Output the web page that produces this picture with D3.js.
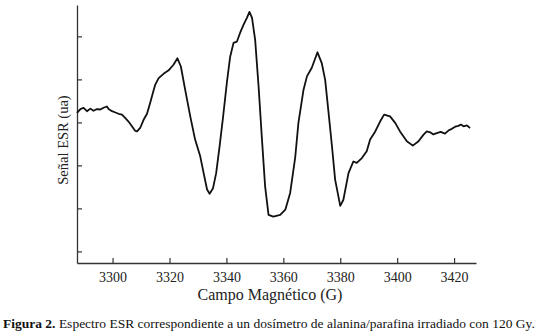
<!DOCTYPE html>
<html>
<head>
<meta charset="utf-8">
<script src="https://cdn.jsdelivr.net/npm/d3@7"></script>
<style>
  body { margin: 0; background: #fff; }
  svg { display: block; font-family: "Liberation Serif", "Times New Roman", serif; }
</style>
</head>
<body>
<div id="chart"></div>
<script>
// ESR spectrum - alanine/paraffin dosimeter, 120 Gy

// field (G)
const field = [
  3287.5, 3288.7, 3289.8, 3291.0, 3292.2, 3293.3, 3294.5, 3295.7, 3296.8, 3298.0,
  3298.6, 3299.8, 3301.0, 3302.1, 3303.3, 3304.5, 3305.6, 3306.8, 3308.0, 3308.6,
  3309.7, 3310.9, 3312.1, 3313.2, 3314.4, 3315.0, 3316.2, 3317.9, 3319.7, 3321.4,
  3322.8, 3324.0, 3325.5, 3327.3, 3329.0, 3330.8, 3332.0, 3333.2, 3334.1, 3335.3,
  3336.4, 3337.6, 3338.8, 3340.2, 3341.3, 3342.5, 3343.7, 3344.8, 3346.0, 3347.2,
  3348.1, 3349.0, 3350.1, 3351.3, 3352.5, 3353.6, 3354.8, 3356.5, 3358.9, 3360.7,
  3362.4, 3364.2, 3365.3, 3367.1, 3368.3, 3370.0, 3372.0, 3373.5, 3374.7, 3375.9,
  3377.1, 3378.2, 3380.0, 3381.1, 3382.9, 3384.6, 3385.8, 3387.6, 3389.3, 3390.5,
  3392.3, 3394.0, 3395.4, 3397.5, 3399.3, 3401.0, 3403.4, 3405.5, 3407.5, 3409.2,
  3410.4, 3411.6, 3412.7, 3413.9, 3415.3, 3416.8, 3418.0, 3419.2, 3420.4, 3421.5,
  3422.4, 3423.3, 3424.5, 3425.6
];

// signal (arbitrary units)
const signal = [
  3.22, 3.31, 3.34, 3.26, 3.32, 3.27, 3.31, 3.30, 3.34, 3.37,
  3.31, 3.26, 3.23, 3.20, 3.18, 3.10, 3.02, 2.91, 2.80, 2.79,
  2.87, 3.06, 3.20, 3.45, 3.74, 3.88, 4.03, 4.13, 4.21, 4.34,
  4.49, 4.30, 3.76, 3.14, 2.60, 2.21, 1.82, 1.44, 1.34, 1.47,
  1.82, 2.44, 3.11, 3.95, 4.52, 4.85, 4.88, 5.08, 5.27, 5.43,
  5.57, 5.43, 4.92, 3.84, 2.60, 1.51, 0.85, 0.81, 0.85, 0.97,
  1.36, 2.20, 2.99, 3.76, 4.07, 4.27, 4.63, 4.38, 3.99, 3.22,
  2.44, 1.67, 1.06, 1.20, 1.82, 2.09, 2.06, 2.17, 2.33, 2.60,
  2.79, 3.02, 3.18, 3.14, 2.99, 2.79, 2.56, 2.46, 2.56, 2.71,
  2.79, 2.77, 2.72, 2.75, 2.78, 2.74, 2.81, 2.85, 2.90, 2.92,
  2.95, 2.91, 2.93, 2.87
];

const xTicks = [3300, 3320, 3340, 3360, 3380, 3400, 3420];
const yTicks = [0, 1, 2, 3, 4, 5];

const xLabel = 'Campo Magnético (G)';
const yLabel = 'Señal ESR (ua)';
const captionBold = 'Figura 2.';
const captionText = ' Espectro ESR correspondiente a un dosímetro de alanina/parafina irradiado con 120 Gy.';

const width = 535, height = 335;
const margin = { top: 5, right: 59, bottom: 72, left: 77 };

const svg = d3.select('#chart').append('svg')
  .attr('width', width)
  .attr('height', height);

const x = d3.scaleLinear()
  .domain([3287.5, 3427.7])
  .range([margin.left, width - margin.right]);

const y = d3.scaleLinear()
  .domain([-0.27, 5.73])
  .range([height - margin.bottom, margin.top]);

// axes (ticks point inward, no labels on y)
const xAxis = svg.append('g')
  .attr('transform', `translate(0,${height - margin.bottom})`)
  .call(d3.axisBottom(x).tickValues(xTicks).tickFormat(d3.format('d'))
    .tickSizeInner(-5).tickSizeOuter(0).tickPadding(9));

const yAxis = svg.append('g')
  .attr('transform', `translate(${margin.left},0)`)
  .call(d3.axisLeft(y).tickValues(yTicks).tickSizeInner(-5).tickSizeOuter(0).tickFormat(''));

[xAxis, yAxis].forEach(g => {
  g.attr('font-family', null);
  g.select('.domain').attr('stroke', '#333').attr('stroke-width', 1.3);
  g.selectAll('.tick line').attr('stroke', '#333').attr('stroke-width', 1.2);
});
xAxis.attr('font-size', 14);
xAxis.selectAll('.tick text').attr('fill', '#222');

// spectrum
const line = d3.line()
  .x((d, i) => x(field[i]))
  .y(d => y(d));

svg.append('path')
  .datum(signal)
  .attr('fill', 'none')
  .attr('stroke', '#111')
  .attr('stroke-width', 1.8)
  .attr('stroke-linejoin', 'round')
  .attr('d', line);

// axis titles
svg.append('text')
  .attr('x', 270)
  .attr('y', 300)
  .attr('text-anchor', 'middle')
  .attr('font-size', 16)
  .attr('fill', '#222')
  .text(xLabel);

svg.append('text')
  .attr('transform', 'translate(68,140) rotate(-90)')
  .attr('text-anchor', 'middle')
  .attr('font-size', 14.5)
  .attr('fill', '#222')
  .text(yLabel);

// caption
const cap = svg.append('text')
  .attr('x', 3)
  .attr('y', 328)
  .attr('font-size', 13.5)
  .attr('fill', '#111');
cap.append('tspan').attr('font-weight', 'bold').text(captionBold);
cap.append('tspan').text(captionText);
</script>
</body>
</html>
